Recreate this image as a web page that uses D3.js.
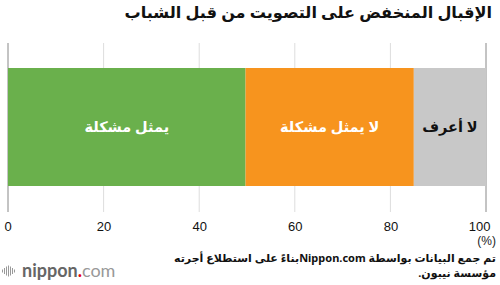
<!DOCTYPE html>
<html>
<head>
<meta charset="utf-8">
<script src="https://cdn.jsdelivr.net/npm/d3@7"></script>
<style>
  body { margin: 0; background: #fff; }
  svg { display: block; font-family: "Noto Sans", "DejaVu Sans", sans-serif; }
</style>
</head>
<body>
<div id="chart"></div>
<script>
// chart data
var categories = ["يمثل مشكلة", "لا يمثل مشكلة", "لا أعرف"];
var values = [49.7, 35.2, 15.1];
var colors = ["#6ab04c", "#f7941e", "#c8c8c8"];
var labelColors = ["#fff", "#fff", "#111"];
var tickValues = [0, 20, 40, 60, 80, 100];

var title = "الإقبال المنخفض على التصويت من قبل الشباب";
var sourceLines = ["تم جمع البيانات بواسطة Nippon.comبناءً على استطلاع أجرته", "مؤسسة نيبون."];

var width = 500, height = 285;
var svg = d3.select("#chart").append("svg")
    .attr("width", width)
    .attr("height", height);

var x = d3.scaleLinear().domain([0, 100]).range([8, 486]);
var gridTop = 43, gridBottom = 212;
var barTop = 68, barBottom = 186;

// title
svg.append("text")
    .attr("x", 492)
    .attr("y", 18)
    .attr("text-anchor", "end")
    .attr("font-size", 16.1)
    .attr("font-weight", "bold")
    .attr("fill", "#111")
    .text(title);

// grid lines
svg.append("g")
    .selectAll("line")
    .data(tickValues)
    .enter()
    .append("line")
    .attr("x1", function(d) { return x(d); })
    .attr("x2", function(d) { return x(d); })
    .attr("y1", gridTop)
    .attr("y2", gridBottom)
    .attr("stroke", function(d) { return (d === 0 || d === 100) ? "#888" : "#ddd"; })
    .attr("stroke-width", 1);

// stacked bar
var stack = [];
var acc = 0;
values.forEach(function(v, i) {
    stack.push({ start: acc, end: acc + v, label: categories[i], color: colors[i], text: labelColors[i] });
    acc += v;
});

var seg = svg.append("g")
    .selectAll("g")
    .data(stack)
    .enter()
    .append("g");

seg.append("rect")
    .attr("x", function(d) { return x(d.start); })
    .attr("width", function(d) { return x(d.end) - x(d.start); })
    .attr("y", barTop)
    .attr("height", barBottom - barTop)
    .attr("fill", function(d) { return d.color; });

seg.append("text")
    .attr("x", function(d) { return (x(d.start) + x(d.end)) / 2; })
    .attr("y", (barTop + barBottom) / 2 + 5)
    .attr("text-anchor", "middle")
    .attr("font-size", 14.5)
    .attr("font-weight", "bold")
    .attr("fill", function(d) { return d.text; })
    .text(function(d) { return d.label; });

// axis labels
var axis = svg.append("g")
    .attr("transform", "translate(0," + gridBottom + ")")
    .call(d3.axisBottom(x).tickValues(tickValues).tickSize(0).tickPadding(10));
axis.select(".domain").remove();
axis.selectAll("text")
    .attr("font-size", 13)
    .attr("font-family", "Liberation Sans, Arial, sans-serif")
    .attr("fill", "#111")
    .attr("text-anchor", function(d) { return d === 0 ? "start" : (d === 100 ? "end" : "middle"); })
    .attr("dx", function(d) { return d === 0 ? "-4" : (d === 100 ? "4" : "0"); });

svg.append("text")
    .attr("x", 496)
    .attr("y", 245)
    .attr("text-anchor", "end")
    .attr("font-size", 12)
    .attr("font-family", "Liberation Sans, Arial, sans-serif")
    .attr("fill", "#222")
    .text("(%)");

// source: rtl embedding so the Arabic runs sit on the right of Nippon.com
svg.append("g")
    .selectAll("text")
    .data(sourceLines)
    .enter()
    .append("text")
    .attr("x", 496)
    .attr("y", function(d, i) { return 262 + i * 15; })
    .attr("text-anchor", "end")
    .attr("font-size", 11)
    .attr("font-weight", "bold")
    .attr("fill", "#111")
    .text(function(d) { return "\u202B" + d + "\u202C"; });

// logo
var logo = svg.append("g").attr("transform", "translate(2,271)");
var bars = [3, 6, 9, 11, 9, 6, 3];
logo.selectAll("rect")
    .data(bars)
    .enter()
    .append("rect")
    .attr("x", function(d, i) { return i * 2; })
    .attr("y", function(d) { return -d / 2; })
    .attr("width", 1)
    .attr("height", function(d) { return d; })
    .attr("fill", "#999");
var lt = logo.append("text")
    .attr("x", 20)
    .attr("y", 6)
    .attr("font-size", 18)
    .attr("font-family", "Lato, 'Open Sans', sans-serif");
lt.append("tspan").attr("font-weight", "bold").attr("fill", "#666").text("nippon");
lt.append("tspan").attr("font-weight", "bold").attr("fill", "#e60012").text(".");
lt.append("tspan").attr("fill", "#999").text("com");
</script>
</body>
</html>
